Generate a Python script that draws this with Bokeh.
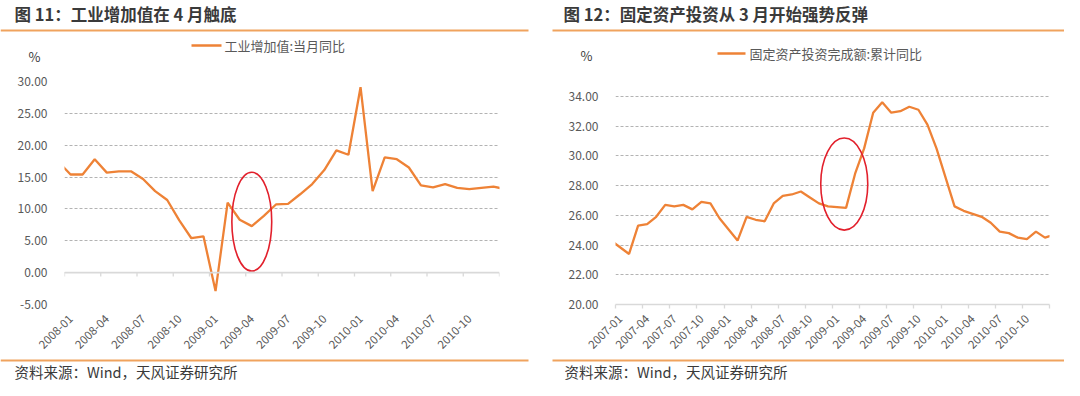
import math
from bokeh.plotting import figure
from bokeh.layouts import row, column
from bokeh.models import FixedTicker, NumeralTickFormatter, Label, Range1d, Span
from bokeh.embed import file_html
from bokeh.resources import INLINE

# ---------------- data ----------------
ip_title = "图 11：工业增加值在 4 月触底"
ip_legend = "工业增加值:当月同比"
ip_months = ["2007-12",
             "2008-01", "2008-02", "2008-03", "2008-04", "2008-05", "2008-06",
             "2008-07", "2008-08", "2008-09", "2008-10", "2008-11", "2008-12",
             "2009-01", "2009-02", "2009-03", "2009-04", "2009-05", "2009-06",
             "2009-07", "2009-08", "2009-09", "2009-10", "2009-11", "2009-12",
             "2010-01", "2010-02", "2010-03", "2010-04", "2010-05", "2010-06",
             "2010-07", "2010-08", "2010-09", "2010-10", "2010-11", "2010-12",
             "2011-01"]
ip_values = [17.4,
             15.4, 15.4, 17.8, 15.7, 15.9, 15.9, 14.7, 12.8, 11.4, 8.2, 5.4, 5.7,
             -2.9, 11.0, 8.3, 7.3, 8.9, 10.7, 10.8, 12.3, 13.9, 16.1, 19.2, 18.5,
             29.1, 12.8, 18.1, 17.8, 16.5, 13.7, 13.4, 13.9, 13.3, 13.1, 13.3, 13.5,
             13.1]
ip_axis_first = "2008-01"
ip_axis_last = "2010-12"
ip_tick_labels = ["2008-01", "2008-04", "2008-07", "2008-10", "2009-01", "2009-04",
                  "2009-07", "2009-10", "2010-01", "2010-04", "2010-07", "2010-10"]
ip_y_ticks = [-5, 0, 5, 10, 15, 20, 25, 30]
ip_mark_month = "2009-04"      # circled trough

fai_title = "图 12：固定资产投资从 3 月开始强势反弹"
fai_legend = "固定资产投资完成额:累计同比"
fai_months = ["2006-12",
              "2007-02", "2007-03", "2007-04", "2007-05", "2007-06", "2007-07",
              "2007-08", "2007-09", "2007-10", "2007-11", "2007-12",
              "2008-02", "2008-03", "2008-04", "2008-05", "2008-06", "2008-07",
              "2008-08", "2008-09", "2008-10", "2008-11", "2008-12",
              "2009-02", "2009-03", "2009-04", "2009-05", "2009-06", "2009-07",
              "2009-08", "2009-09", "2009-10", "2009-11", "2009-12",
              "2010-02", "2010-03", "2010-04", "2010-05", "2010-06", "2010-07",
              "2010-08", "2010-09", "2010-10", "2010-11", "2010-12",
              "2011-02"]
fai_values = [24.3,
              23.4, 25.3, 25.4, 25.9, 26.7, 26.6, 26.7, 26.4, 26.9, 26.8, 25.8,
              24.3, 25.9, 25.7, 25.6, 26.8, 27.3, 27.4, 27.6, 27.2, 26.8, 26.6,
              26.5, 28.8, 30.5, 32.9, 33.6, 32.9, 33.0, 33.3, 33.1, 32.1, 30.5,
              26.6, 26.3, 26.1, 25.9, 25.5, 24.9, 24.8, 24.5, 24.4, 24.9, 24.5,
              24.9]
fai_axis_first = "2007-01"
fai_axis_last = "2010-12"
fai_tick_labels = ["2007-01", "2007-04", "2007-07", "2007-10", "2008-01", "2008-04",
                   "2008-07", "2008-10", "2009-01", "2009-04", "2009-07", "2009-10",
                   "2010-01", "2010-04", "2010-07", "2010-10"]
fai_y_ticks = [20, 22, 24, 26, 28, 30, 32, 34]
fai_mark_months = ["2009-01", "2009-02"]   # circled rebound start

source_text = "资料来源：Wind，天风证券研究所"
unit_text = "%"

# ---------------- styles ----------------
ORANGE = "#EE8236"
SEP = "#F0A35E"
RED = "#E2202C"
GRID = "#b3b3b3"
AXIS = "#d9d9d9"
LABEL = "#595959"
TEXT = "#3a3a3a"
CJK = "Noto Sans CJK SC"

TOTAL_W = 1064
TOP_H = 70        # header strip
CHART_H = 286     # chart row
BOT_H = 24        # footer strip


def midx(s, base):
    y, m = s.split("-")
    by, bm = base.split("-")
    return (int(y) - int(by)) * 12 + int(m) - int(bm)


def bare(width, height, y0, y1):
    p = figure(width=width, height=height, x_range=Range1d(0, width),
               y_range=Range1d(y1, y0), output_backend="svg", toolbar_location=None,
               x_axis_location=None, y_axis_location=None,
               min_border=0)
    p.title.visible = False
    p.outline_line_color = None
    p.xgrid.visible = False
    p.ygrid.visible = False
    return p


def build_chart(width, fl, fr, ft, fb, months, values, first, last, tick_labels,
                y_ticks, y_top, zero_axis, ellipse):
    n_last = midx(last, first)
    p = figure(width=width, height=CHART_H,
               x_range=Range1d(-0.5, n_last + 0.5),
               y_range=Range1d(min(y_ticks), y_top),
               output_backend="svg", toolbar_location=None,
               min_border_left=fl, min_border_right=fr,
               min_border_top=ft, min_border_bottom=fb)
    p.title.visible = False
    p.outline_line_color = None

    p.xgrid.visible = False
    p.ygrid.ticker = FixedTicker(ticks=y_ticks)
    p.ygrid.grid_line_color = GRID
    p.ygrid.grid_line_dash = "3 2"
    p.ygrid.grid_line_width = 1

    p.yaxis.ticker = FixedTicker(ticks=y_ticks)
    p.yaxis.formatter = NumeralTickFormatter(format="0.00")
    p.yaxis.axis_line_color = None
    p.yaxis.major_tick_line_color = None
    p.yaxis.minor_tick_line_color = None
    p.yaxis.major_label_standoff = 11
    p.yaxis.major_label_text_font = CJK
    p.yaxis.major_label_text_font_size = "12px"
    p.yaxis.major_label_text_color = LABEL

    label_pos = [midx(t, first) for t in tick_labels]
    bounds = [b - 0.5 for b in range(0, n_last + 2, 3)]
    p.xaxis.ticker = FixedTicker(ticks=label_pos, minor_ticks=bounds)
    p.xaxis.major_label_overrides = {pos: t for pos, t in zip(label_pos, tick_labels)}
    p.xaxis.major_label_orientation = math.pi / 4
    p.xaxis.major_tick_line_color = None
    p.xaxis.major_label_text_font = CJK
    p.xaxis.major_label_text_font_size = "11.5px"
    p.xaxis.major_label_text_color = LABEL
    p.xaxis.major_label_standoff = 6
    if zero_axis:
        p.xaxis.axis_line_color = None
        p.xaxis.minor_tick_line_color = None
        p.add_layout(Span(location=0, dimension="width", line_color=AXIS, line_width=1.6))
        p.segment(x0=bounds, y0=[0] * len(bounds), x1=bounds, y1=[-0.6] * len(bounds),
                  line_color=AXIS, line_width=1.3)
    else:
        p.xaxis.axis_line_color = AXIS
        p.xaxis.axis_line_width = 1.6
        p.xaxis.minor_tick_line_color = AXIS
        p.xaxis.minor_tick_line_width = 1.3
        p.xaxis.minor_tick_in = 0
        p.xaxis.minor_tick_out = 4

    xs = [midx(m, first) for m in months]
    p.line(xs, values, line_color=ORANGE, line_width=2.3)

    ex, ey, ew, eh = ellipse
    p.ellipse(x=[ex], y=[ey], width=[ew], height=[eh], fill_color=None,
              line_color=RED, line_width=1.6)
    return p


# ---------------- header strip (canvas pixel coordinates) ----------------
head = bare(TOTAL_W, TOP_H, 0, TOP_H)
for (tx, ty, txt) in [(14, 13, ip_title), (563, 13, fai_title)]:
    head.add_layout(Label(x=tx, y=ty, text=txt, text_font=CJK, text_font_style="bold",
                          text_font_size="16.5px", text_color=TEXT,
                          text_align="left", text_baseline="middle"))
head.segment(x0=[0, 552], y0=[30, 30], x1=[528, TOTAL_W], y1=[30, 30],
             line_color=SEP, line_width=2)
for (ux, uy) in [(34, 56), (586, 55)]:
    head.add_layout(Label(x=ux, y=uy, text=unit_text, text_font=CJK, text_font_size="13px",
                          text_color=TEXT, text_align="center", text_baseline="middle"))
head.segment(x0=[191, 717], y0=[45, 53], x1=[221, 745], y1=[45, 53],
             line_color=ORANGE, line_width=2.3)
for (gx, gy, txt) in [(224, 45, ip_legend), (749, 53, fai_legend)]:
    head.add_layout(Label(x=gx, y=gy, text=txt, text_font=CJK, text_font_size="13px",
                          text_color=LABEL, text_align="left", text_baseline="middle"))

# ---------------- charts ----------------
chart_top = TOP_H
frame_top, frame_bottom = 81, 304
fb = chart_top + CHART_H - frame_bottom
ft = frame_top - chart_top

ip_mark = midx(ip_mark_month, ip_axis_first)
pL = build_chart(540, 64, 41, ft, fb, ip_months, ip_values, ip_axis_first, ip_axis_last,
                 ip_tick_labels, ip_y_ticks, 30, True, (ip_mark, 8.0, 3.3, 15.5))

fai_mark = (midx(fai_mark_months[0], fai_axis_first) +
            midx(fai_mark_months[1], fai_axis_first)) / 2 + 0.3
pR = build_chart(TOTAL_W - 540, 75, 15, ft, fb, fai_months, fai_values, fai_axis_first,
                 fai_axis_last, fai_tick_labels, fai_y_ticks, 35, False,
                 (fai_mark, 28.1, 5.2, 6.2))

# ---------------- footer strip ----------------
y_base = TOP_H + CHART_H
foot = bare(TOTAL_W, BOT_H, y_base, y_base + BOT_H)
foot.segment(x0=[0, 552], y0=[y_base + 4, y_base + 4], x1=[528, TOTAL_W],
             y1=[y_base + 4, y_base + 4], line_color=SEP, line_width=2)
for sx in [14, 564]:
    foot.add_layout(Label(x=sx, y=y_base + 14.5, text=source_text, text_font=CJK,
                          text_font_size="14.5px", text_color=TEXT,
                          text_align="left", text_baseline="middle"))

layout = column(head, row(pL, pR, spacing=0), foot, spacing=0)
open("out.html", "w").write(file_html(layout, INLINE))
